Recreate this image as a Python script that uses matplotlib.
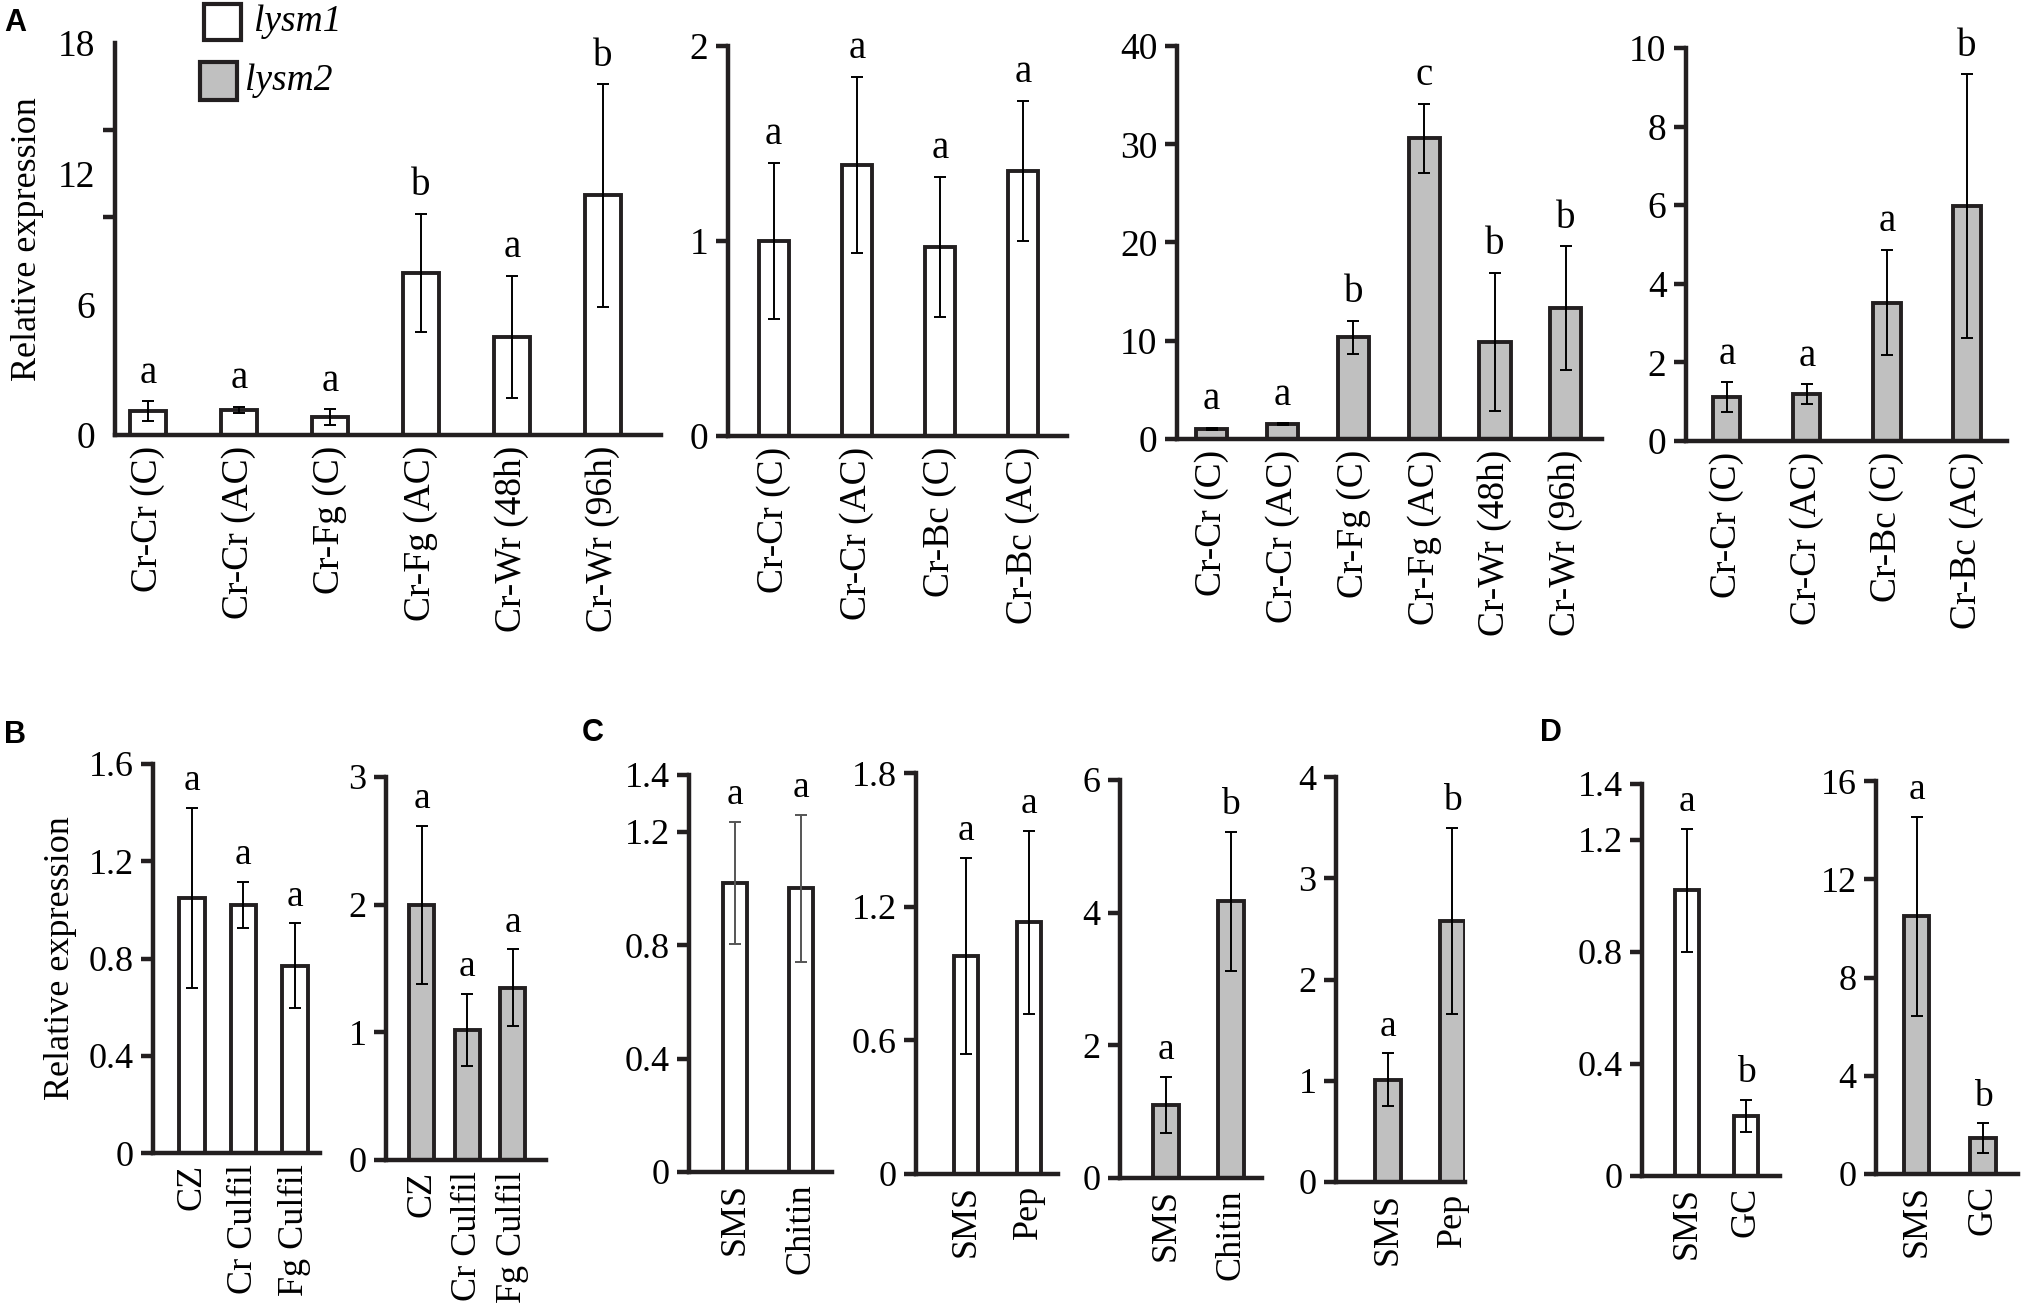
import numpy as np
import matplotlib
matplotlib.use('Agg')
import matplotlib.pyplot as plt
from matplotlib.patches import Rectangle

plt.rcParams['font.family'] = ['Liberation Serif', 'DejaVu Serif']

# --- data ---
# panel A, lysm1 (white) and lysm2 (grey)
a_fg_labels = ['Cr-Cr (C)', 'Cr-Cr (AC)', 'Cr-Fg (C)', 'Cr-Fg (AC)', 'Cr-Wr (48h)', 'Cr-Wr (96h)']
a_bc_labels = ['Cr-Cr (C)', 'Cr-Cr (AC)', 'Cr-Bc (C)', 'Cr-Bc (AC)']

a1_vals = [1.1, 1.16, 0.83, 7.45, 4.5, 11.0]
a1_err = [0.45, 0.14, 0.35, 2.7, 2.8, 5.1]
a1_sig = ['a', 'a', 'a', 'b', 'a', 'b']

a2_vals = [1.0, 1.39, 0.97, 1.36]
a2_err = [0.4, 0.45, 0.36, 0.36]
a2_sig = ['a', 'a', 'a', 'a']

a3_vals = [1.0, 1.5, 10.35, 30.6, 9.9, 13.3]
a3_err = [0.1, 0.1, 1.65, 3.5, 7.0, 6.3]
a3_sig = ['a', 'a', 'b', 'c', 'b', 'b']

a4_vals = [1.11, 1.19, 3.52, 5.98]
a4_err = [0.38, 0.25, 1.34, 3.35]
a4_sig = ['a', 'a', 'a', 'b']

# panel B
b_labels = ['CZ', 'Cr Culfil', 'Fg Culfil']
b1_vals = [1.05, 1.02, 0.77]
b1_err = [0.37, 0.095, 0.175]
b2_vals = [2.0, 1.02, 1.35]
b2_err = [0.62, 0.28, 0.3]
b_sig = ['a', 'a', 'a']

# panel C
c_chitin_labels = ['SMS', 'Chitin']
c_pep_labels = ['SMS', 'Pep']
c1_vals = [1.02, 1.0]
c1_err = [0.215, 0.26]
c1_sig = ['a', 'a']
c2_vals = [0.98, 1.13]
c2_err = [0.44, 0.41]
c2_sig = ['a', 'a']
c3_vals = [1.1, 4.17]
c3_err = [0.42, 1.05]
c3_sig = ['a', 'b']
c4_vals = [1.01, 2.58]
c4_err = [0.26, 0.92]
c4_sig = ['a', 'b']

# panel D
d_labels = ['SMS', 'GC']
d1_vals = [1.02, 0.215]
d1_err = [0.22, 0.057]
d2_vals = [10.5, 1.46]
d2_err = [4.05, 0.6]
d_sig = ['a', 'b']

W, H = 2022, 1314
EDGE = '#231f20'
GREY = '#c0c0c0'
FS_A = 27
FS_B = 26

fig = plt.figure(figsize=(W / 100, H / 100), dpi=100)


def make_ax(left, right, top, base):
    # pixel box -> figure fraction
    return fig.add_axes([left / W, 1 - base / H, (right - left) / W, (base - top) / H])


def draw(ax, vals, errs, sig, labels, color, ymax, ticks, ticklabels, xlim, width,
         fs=FS_B, ecolor='black'):
    x = np.arange(len(vals))
    ax.bar(x, vals, width, color=color, edgecolor=EDGE, linewidth=2.8, zorder=2)
    ax.errorbar(x, vals, yerr=errs, fmt='none', ecolor=ecolor, elinewidth=1.4,
                capsize=4, capthick=1.4, zorder=3)
    for xi, v, e, s in zip(x, vals, errs, sig):
        ax.annotate(s, (xi, v + e), xytext=(0, 7), textcoords='offset points',
                    ha='center', va='bottom', fontsize=fs + 1)
    ax.set_ylim(0, ymax)
    ax.set_xlim(*xlim)
    for side in ['top', 'right']:
        ax.spines[side].set_visible(False)
    for side in ['left', 'bottom']:
        ax.spines[side].set_linewidth(3.2)
        ax.spines[side].set_color(EDGE)
    ax.set_yticks(ticks, ticklabels, fontsize=fs)
    ax.set_xticks(x, labels, rotation=90, fontsize=fs)
    ax.tick_params(axis='x', length=0, pad=8)
    ax.tick_params(axis='y', length=9, width=3.2, color=EDGE, direction='out', pad=5)
    ax.patch.set_alpha(0)


# ---------- panel A ----------
ax = make_ax(115, 661, 43, 435)
draw(ax, a1_vals, a1_err, a1_sig, a_fg_labels, 'white', 18,
     [0, 6, 12, 18], ['0', '6', '12', '18'], (-0.36, 5.64), 0.4, fs=FS_A)
ax.tick_params(axis='y', which='major', length=0, pad=14)
ax.set_yticks([0, 6, 10, 14, 18], minor=True)
ax.tick_params(axis='y', which='minor', length=9, width=3.2, color=EDGE)
ax.set_ylabel('Relative expression', fontsize=26, labelpad=10)

ax = make_ax(728, 1067, 46, 436)
draw(ax, a2_vals, a2_err, a2_sig, a_bc_labels, 'white', 2,
     [0, 1, 2], ['0', '1', '2'], (-0.55, 3.53), 0.36, fs=FS_A)

ax = make_ax(1177, 1602, 46, 439)
draw(ax, a3_vals, a3_err, a3_sig, a_fg_labels, GREY, 40,
     [0, 10, 20, 30, 40], ['0', '10', '20', '30', '40'], (-0.49, 5.51), 0.44, fs=FS_A)

ax = make_ax(1686, 2007, 48, 441)
draw(ax, a4_vals, a4_err, a4_sig, a_bc_labels, GREY, 10,
     [0, 2, 4, 6, 8, 10], ['0', '2', '4', '6', '8', '10'], (-0.51, 3.5), 0.34, fs=FS_A)

# legend boxes
fig.patches.append(Rectangle((204 / W, 1 - 40 / H), 37 / W, 36 / H, transform=fig.transFigure,
                             facecolor='white', edgecolor=EDGE, linewidth=3))
fig.patches.append(Rectangle((200 / W, 1 - 100 / H), 37 / W, 38 / H, transform=fig.transFigure,
                             facecolor=GREY, edgecolor=EDGE, linewidth=3))
fig.text(254 / W, 1 - 22 / H, 'lysm1', fontsize=FS_A, style='italic', va='center')
fig.text(245 / W, 1 - 81 / H, 'lysm2', fontsize=FS_A, style='italic', va='center')

# ---------- panel B ----------
ax = make_ax(153, 320, 764, 1153)
draw(ax, b1_vals, b1_err, b_sig, b_labels, 'white', 1.6,
     [0, 0.4, 0.8, 1.2, 1.6], ['0', '0.4', '0.8', '1.2', '1.6'], (-0.76, 2.49), 0.5)
ax.set_ylabel('Relative expression', fontsize=26, labelpad=8)

ax = make_ax(386, 546, 777, 1160)
draw(ax, b2_vals, b2_err, b_sig, b_labels, GREY, 3,
     [0, 1, 2, 3], ['0', '1', '2', '3'], (-0.79, 2.73), 0.55)

# ---------- panel C ----------
ax = make_ax(689, 832, 775, 1172)
draw(ax, c1_vals, c1_err, c1_sig, c_chitin_labels, 'white', 1.4,
     [0, 0.4, 0.8, 1.2, 1.4], ['0', '0.4', '0.8', '1.2', '1.4'], (-0.70, 1.47), 0.36,
     ecolor='#555555')

ax = make_ax(916, 1058, 773, 1174)
draw(ax, c2_vals, c2_err, c2_sig, c_pep_labels, 'white', 1.8,
     [0, 0.6, 1.2, 1.8], ['0', '0.6', '1.2', '1.8'], (-0.79, 1.46), 0.38)

ax = make_ax(1120, 1262, 780, 1178)
draw(ax, c3_vals, c3_err, c3_sig, c_chitin_labels, GREY, 6,
     [0, 2, 4, 6], ['0', '2', '4', '6'], (-0.71, 1.48), 0.4)

ax = make_ax(1336, 1465, 777, 1182)
draw(ax, c4_vals, c4_err, c4_sig, c_pep_labels, GREY, 4,
     [0, 1, 2, 3, 4], ['0', '1', '2', '3', '4'], (-0.81, 1.2), 0.39)

# ---------- panel D ----------
ax = make_ax(1642, 1780, 784, 1176)
draw(ax, d1_vals, d1_err, d_sig, d_labels, 'white', 1.4,
     [0, 0.4, 0.8, 1.2, 1.4], ['0', '0.4', '0.8', '1.2', '1.4'], (-0.77, 1.58), 0.41)

ax = make_ax(1876, 2018, 781, 1174)
draw(ax, d2_vals, d2_err, d_sig, d_labels, GREY, 16,
     [0, 4, 8, 12, 16], ['0', '4', '8', '12', '16'], (-0.62, 1.53), 0.38)

# panel letters
for letter, px, py in [('A', 4, 31), ('B', 4, 743), ('C', 582, 741), ('D', 1540, 741)]:
    fig.text(px / W, 1 - py / H, letter, fontsize=22, fontweight='bold',
             family='Liberation Sans', va='baseline')

fig.savefig('out.png', dpi=100)
